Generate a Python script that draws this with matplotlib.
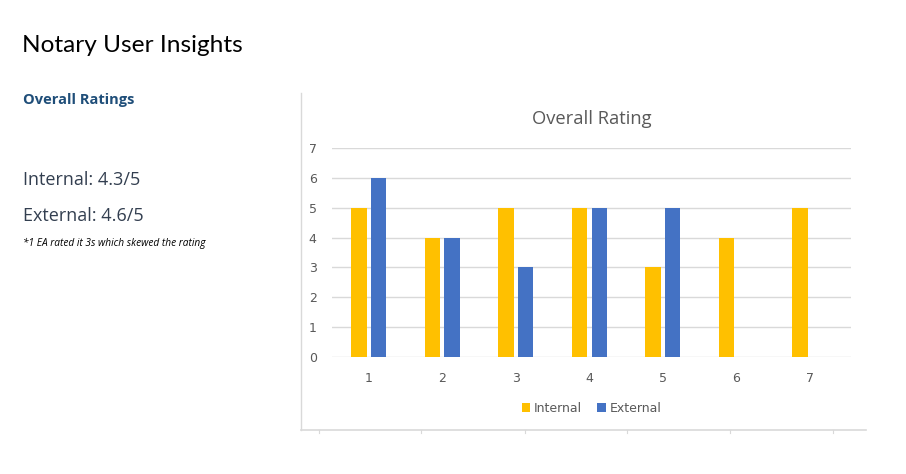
import matplotlib
matplotlib.use("Agg")
import matplotlib.pyplot as plt
from matplotlib.lines import Line2D
import numpy as np

categories = ["1", "2", "3", "4", "5", "6", "7"]
internal = [5, 4, 5, 5, 3, 4, 5]
external = [6, 4, 3, 5, 5, 0, 0]
yticks = [0, 1, 2, 3, 4, 5, 6, 7]

W, H = 906, 474
fig = plt.figure(figsize=(W / 100, H / 100), dpi=100)
fig.patch.set_facecolor("white")

def fx(px):
    return px / W

def fy(py):
    return 1 - py / H

# Left-side text
fig.text(fx(22), fy(45), "Notary User Insights", fontsize=17.6, family="Lato",
         color="black", va="center", ha="left")
fig.text(fx(23), fy(100), "Overall Ratings", fontsize=10.5, family="Open Sans",
         fontweight="bold", color="#1F4E79", va="center", ha="left")
fig.text(fx(23), fy(180), "Internal: 4.3/5", fontsize=13, family="Open Sans",
         color="#333F50", va="center", ha="left")
fig.text(fx(23), fy(216), "External: 4.6/5", fontsize=13, family="Open Sans",
         color="#333F50", va="center", ha="left")
fig.text(fx(23), fy(243), "*1 EA rated it 3s which skewed the rating", fontsize=7.3,
         family="Open Sans", style="italic", color="black", va="center", ha="left")

# Chart frame lines
fig.add_artist(Line2D([fx(301), fx(301)], [fy(93), fy(430)], color="#D9D9D9", lw=1))
fig.add_artist(Line2D([fx(301), fx(866)], [fy(430), fy(430)], color="#D9D9D9", lw=1.2))
for tx in [319, 421, 525, 627, 730, 833]:
    fig.add_artist(Line2D([fx(tx), fx(tx)], [fy(430), fy(433)], color="#D9D9D9", lw=0.8))

# Axes
ax = fig.add_axes([fx(332), 1 - 357 / H, (851 - 332) / W, (357 - 148) / H])
x = np.arange(1, len(categories) + 1)
bw = 0.21
off = 0.135
ax.bar(x - off, internal, width=bw, color="#FFC000", linewidth=0, label="Internal", zorder=3)
ax.bar(x + off, external, width=bw, color="#4472C4", linewidth=0, label="External", zorder=3)

ax.set_xlim(0.5, 7.56)
ax.set_ylim(0, 7)
ax.set_yticks(yticks)
ax.set_xticks(x)
ax.set_xticklabels(categories)
ax.grid(axis="y", color="#D9D9D9", lw=1, zorder=0)
ax.set_axisbelow(True)
for s in ax.spines.values():
    s.set_visible(False)
ax.tick_params(axis="both", length=0, colors="#595959", labelsize=9)
ax.tick_params(axis="y", pad=11)
ax.tick_params(axis="x", pad=11)

ax.set_title("Overall Rating", fontsize=13.2, color="#595959", family="Open Sans", pad=17)

leg = ax.legend(loc="upper center", bbox_to_anchor=(0.5, -0.16), ncol=2, frameon=False,
                fontsize=9, handlelength=0.7, handleheight=0.7, handletextpad=0.3,
                columnspacing=1.2, labelcolor="#595959")

fig.savefig("out.png", dpi=100, facecolor="white")
